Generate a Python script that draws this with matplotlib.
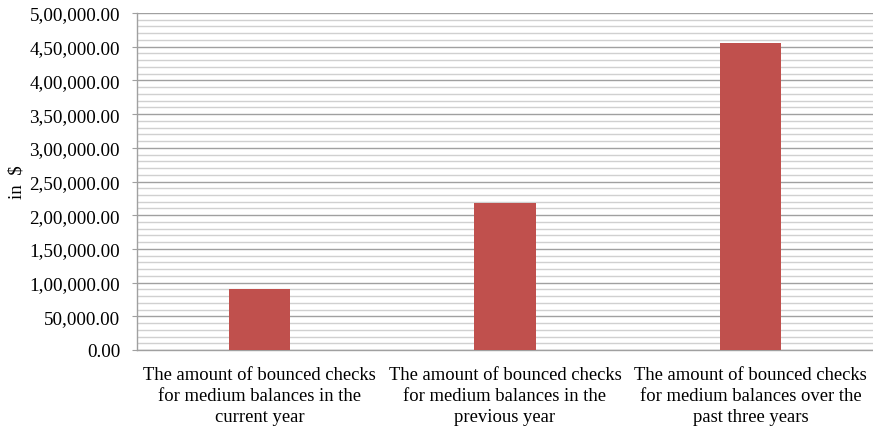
import matplotlib
matplotlib.use("Agg")
import matplotlib.pyplot as plt
from matplotlib.ticker import FuncFormatter, MultipleLocator

categories = [
    "The amount of bounced checks\nfor medium balances in the\ncurrent year",
    "The amount of bounced checks\nfor medium balances in the\nprevious year",
    "The amount of bounced checks\nfor medium balances over the\npast three years",
]
values = [91000, 218500, 455000]
y_label = "in  $"

plt.rcParams['font.family'] = ['Liberation Serif', 'DejaVu Serif']

def indian_format(v, pos=None):
    v = round(v, 2)
    whole = int(v)
    frac = f"{v - whole:.2f}"[1:]
    s = str(whole)
    if len(s) > 3:
        last3 = s[-3:]
        rest = s[:-3]
        parts = []
        while len(rest) > 2:
            parts.insert(0, rest[-2:])
            rest = rest[:-2]
        if rest:
            parts.insert(0, rest)
        s = ",".join(parts) + "," + last3
    return s + frac

fig = plt.figure(figsize=(8.73, 4.27), dpi=100)
ax = fig.add_axes([137/873, 1 - 351/427, 1 - 137/873, 337/427])

x = list(range(len(categories)))
ax.bar(x, values, width=0.25, color="#C0504D", zorder=3)

ax.set_xlim(-0.5, 2.5)
ax.set_ylim(0, 500000)
ax.yaxis.set_major_locator(MultipleLocator(50000))
ax.yaxis.set_minor_locator(MultipleLocator(10000))
ax.yaxis.set_major_formatter(FuncFormatter(indian_format))
ax.grid(axis="y", which="major", color="#A0A0A0", linewidth=1.0, zorder=1)
ax.grid(axis="y", which="minor", color="#D0D0D0", linewidth=1.0, zorder=1)

ax.set_xticks(x)
ax.set_xticklabels(categories, fontsize=13.4, linespacing=1.32)
ax.tick_params(axis="x", length=0, pad=11.5)
ax.tick_params(axis="y", which="major", length=3.6, color="#A0A0A0", labelsize=13.8, pad=8.6)
ax.tick_params(axis="y", which="minor", length=0)

for side in ["top", "right"]:
    ax.spines[side].set_visible(False)
for side in ["left", "bottom"]:
    ax.spines[side].set_color("#A0A0A0")
    ax.spines[side].set_linewidth(1.0)

ax.set_ylabel(y_label, fontsize=13.6)
ax.yaxis.set_label_coords(-0.152, 0.5)

fig.savefig("out.png", dpi=100)
